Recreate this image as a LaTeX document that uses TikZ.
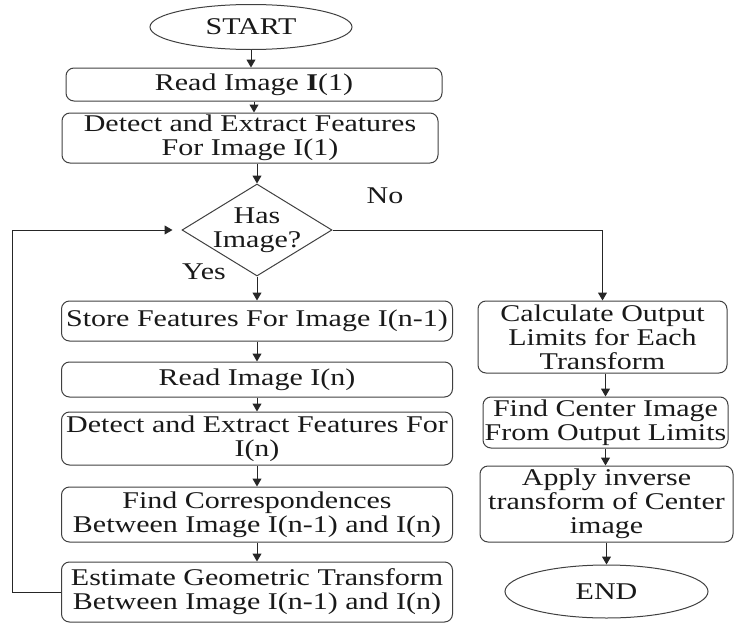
\documentclass[tikz,border=0pt]{standalone}
\usepackage{fontspec}
\setmainfont[FakeStretch=1.25]{Liberation Serif}
\usetikzlibrary{shapes.geometric,arrows.meta}
\begin{document}
\begin{tikzpicture}[x=1pt,y=-1pt,
  txt/.style={font=\fontsize{24}{24}\selectfont, text=black!90},
  box/.style={txt, draw=black!75, line width=1pt, rounded corners=8pt, align=center, inner sep=0pt},
  term/.style={txt, draw=black!75, line width=1pt, ellipse, inner sep=0pt},
  decision/.style={draw=black!75, line width=1pt, diamond, inner sep=0pt},
  arr/.style={draw=black!85, line width=1pt, -{Triangle[width=9pt,length=8pt]}}]
\useasboundingbox (0,0) rectangle (734,624);
% left / main column
\node[term, minimum width=202pt, minimum height=45pt] (start) at (251,27) {START};
\node[box, minimum width=376pt, minimum height=33pt] (read1) at (254,84.5) {Read Image \textbf{I}(1)};
\node[box, minimum width=376pt, minimum height=50pt] (det1) at (250,138) {Detect and Extract Features\\For Image I(1)};
\node[decision, minimum width=150pt, minimum height=92pt] (dec) at (257,230) {};
\node[txt, align=center, inner sep=0pt] (dectext) at (257,230) {Has\\Image?};
\node[box, minimum width=391pt, minimum height=40pt] (store) at (257,321) {Store Features For Image I(n-1)};
\node[box, minimum width=391pt, minimum height=35pt] (read2) at (257,379.5) {Read Image I(n)};
\node[box, minimum width=391pt, minimum height=53pt] (det2) at (257,438.5) {Detect and Extract Features For\\I(n)};
\node[box, minimum width=391pt, minimum height=55pt] (corr) at (257,514.5) {Find Correspondences\\Between Image I(n-1) and I(n)};
\node[box, minimum width=391pt, minimum height=60pt] (est) at (257,592) {Estimate Geometric Transform\\Between Image I(n-1) and I(n)};
% right column
\node[box, minimum width=249pt, minimum height=72pt] (calc) at (602.5,337) {Calculate Output\\Limits for Each\\Transform};
\node[box, minimum width=245pt, minimum height=51pt] (findc) at (605.5,422.5) {Find Center Image\\From Output Limits};
\node[box, minimum width=253pt, minimum height=76pt] (apply) at (606.5,504) {Apply inverse\\transform of Center\\image};
\node[term, minimum width=203pt, minimum height=53pt] (end) at (606.5,591.5) {END};
% labels
\node[txt] (nolbl) at (385,196) {No};
\node[txt] (yeslbl) at (204,272) {Yes};
\coordinate (loopx) at (12,0);
% connectors
\draw[arr] (start.south) -- (start.south |- read1.north);
\draw[arr] (read1.south) -- (read1.south |- det1.north);
\draw[arr] (dec.north |- det1.south) -- (dec.north);
\draw[arr] (dec.south) -- (store.north);
\draw[arr] (store.south) -- (read2.north);
\draw[arr] (read2.south) -- (det2.north);
\draw[arr] (det2.south) -- (corr.north);
\draw[arr] (corr.south) -- (est.north);
\draw[arr, shorten >=9pt] (est.west) -- (est.west -| loopx) |- (dec.west);
\draw[arr] (dec.east) -| (calc.north);
\draw[arr] (findc.north |- calc.south) -- (findc.north);
\draw[arr] (findc.south) -- (findc.south |- apply.north);
\draw[arr] (apply.south) -- (apply.south |- end.north);
\end{tikzpicture}
\end{document}
